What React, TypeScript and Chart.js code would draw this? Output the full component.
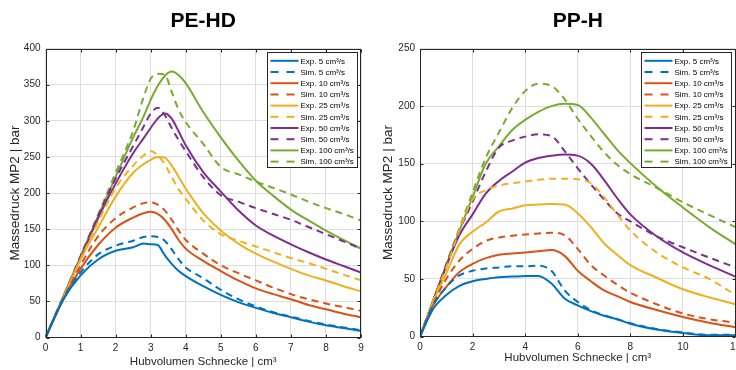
import React, { useEffect, useRef } from "react";
import { Chart, registerables } from "chart.js";

Chart.register(...registerables);

// ---------------- DATA ----------------
const SERIES_LABELS = [
  "Exp. 5 cm³/s", "Sim. 5 cm³/s",
  "Exp. 10 cm³/s", "Sim. 10 cm³/s",
  "Exp. 25 cm³/s", "Sim. 25 cm³/s",
  "Exp. 50 cm³/s", "Sim. 50 cm³/s",
  "Exp. 100 cm³/s", "Sim. 100 cm³/s",
];

// PE-HD (left)
const PE_X = [0, 0.5, 1, 1.5, 2, 2.5, 2.8, 3, 3.2, 3.4, 3.6, 3.8, 4, 4.5, 5, 5.5, 6, 6.5, 7, 7.5, 8, 8.5, 9];
const PE_EXP_5 = [0, 52, 86, 108, 120, 125, 130, 129, 128, 114, 102, 92, 85, 71, 59, 49, 41, 34, 28, 22, 17, 13, 9];
const PE_SIM_5 = [0, 53, 90, 115, 127, 134, 139, 140, 139, 134, 122, 108, 97, 82, 66, 53, 43, 35, 29, 23, 18, 14, 10];
const PE_EXP_10 = [0, 52, 95, 128, 152, 166, 172, 174, 171, 163, 150, 135, 123, 106, 92, 79, 68, 60, 53, 45, 39, 33, 28];
const PE_SIM_10 = [0, 53, 100, 140, 165, 180, 186, 187, 184, 176, 163, 148, 135, 116, 100, 89, 79, 69, 60, 53, 47, 42, 37];
const PE_EXP_25 = [0, 54, 108, 152, 195, 228, 240, 246, 250, 249, 238, 222, 206, 172, 148, 130, 116, 105, 95, 86, 79, 71, 64];
const PE_SIM_25 = [0, 55, 108, 160, 207, 238, 252, 258, 252, 240, 222, 205, 192, 162, 143, 134, 126, 118, 110, 103, 95, 87, 79];
const PE_EXP_50 = [0, 55, 110, 165, 213, 255, 276, 290, 303, 310, 303, 285, 266, 229, 202, 176, 155, 141, 129, 118, 108, 99, 90];
const PE_SIM_50 = [0, 55, 112, 168, 220, 265, 292, 310, 318, 308, 290, 273, 258, 222, 197, 188, 179, 171, 163, 153, 143, 133, 123];
const PE_EXP_100 = [0, 56, 112, 168, 222, 277, 306, 329, 348, 362, 368, 363, 352, 312, 277, 245, 217, 196, 177, 162, 148, 135, 123];
const PE_SIM_100 = [0, 56, 113, 170, 228, 286, 333, 358, 365, 364, 340, 315, 298, 268, 236, 226, 216, 207, 198, 188, 179, 171, 162];

// PP-H (right)
const PP_X = [0, 0.5, 1, 1.5, 2, 2.5, 3, 3.5, 4, 4.5, 5, 5.5, 6, 6.5, 7, 7.5, 8, 9, 10, 11, 12];
const PP_EXP_5 = [0, 24, 36, 44, 48, 50, 51.5, 52, 52.5, 52.6, 46, 33, 27, 22, 18, 15, 11, 6, 3, 1, 1];
const PP_SIM_5 = [0, 27, 43, 53, 57, 59, 60, 61, 61, 61.5, 57, 40, 30, 23, 18.5, 15, 11.5, 6.5, 3.5, 1.5, 1.5];
const PP_EXP_10 = [0, 27, 43, 56, 63, 68, 71, 72, 73, 74, 75, 70, 57, 48, 40, 35, 30, 23, 17, 12, 8];
const PP_SIM_10 = [0, 28, 50, 66, 76, 83, 86, 87.5, 88.5, 89.5, 90, 88, 76, 62, 53, 45, 38, 28, 20, 15, 12];
const PP_EXP_25 = [0, 30, 55, 80, 91, 99, 108.5, 111, 114, 114.5, 115, 114.5, 107, 95, 81, 71, 62, 51, 41, 34, 28];
const PP_SIM_25 = [0, 31, 60, 92, 119, 127, 131, 133, 134.5, 136, 137, 137, 136.5, 133, 121, 106, 92, 73, 60, 50, 36];
const PP_EXP_50 = [0, 31, 61, 88, 106, 124, 135, 143, 151, 155, 157, 158, 157, 150, 136, 120, 106, 87, 73, 62, 52];
const PP_SIM_50 = [0, 31, 62, 92, 117, 143, 164, 170, 173.5, 175.5, 174, 161, 146, 132, 119, 107, 100, 87, 77.5, 68.5, 60];
const PP_EXP_100 = [0, 31, 62, 92, 121, 150, 165, 179, 188, 195, 200, 202, 201, 190, 176, 162, 150.5, 130, 112, 95, 80];
const PP_SIM_100 = [0, 31, 63, 94, 125, 155, 177, 198, 213, 219.5, 217.5, 206, 189, 174, 160, 149, 141, 129, 116.5, 105.5, 95];

// ---------------- STYLE ----------------
const COLORS = ["#0072BD", "#D95319", "#EDB120", "#7E2F8E", "#77AC30"];
const FONT = "'Liberation Sans', Arial, Helvetica, sans-serif";
const AXIS_COLOR = "#262626";
const GRID_COLOR = "#dedede";
const DASH = [7, 5];

function buildDatasets(xs: number[], series: number[][]) {
  return series.map((ys, i) => {
    const color = COLORS[Math.floor(i / 2)];
    const dashed = i % 2 === 1;
    return {
      label: SERIES_LABELS[i],
      data: xs.map((x, k) => ({ x, y: ys[k] })),
      borderColor: color,
      backgroundColor: color,
      borderWidth: 2,
      borderDash: dashed ? DASH : [],
      pointRadius: 0,
      fill: false,
      cubicInterpolationMode: "monotone",
    };
  });
}

function makePlugins(title: string) {
  const titlePlugin = {
    id: "customTitle",
    afterDraw(chart: any) {
      const { ctx, chartArea } = chart;
      ctx.save();
      ctx.font = `bold 21px ${FONT}`;
      ctx.fillStyle = "#000";
      ctx.textAlign = "center";
      ctx.textBaseline = "middle";
      ctx.fillText(title, (chartArea.left + chartArea.right) / 2, 21);
      ctx.restore();
    },
  };
  const framePlugin = {
    id: "frame",
    afterDatasetsDraw(chart: any) {
      const { ctx, chartArea, scales } = chart;
      const L = Math.round(chartArea.left) + 0.5;
      const R = Math.round(chartArea.right) - 0.5;
      const T = Math.round(chartArea.top) + 0.5;
      const B = Math.round(chartArea.bottom) - 0.5;
      ctx.save();
      ctx.strokeStyle = AXIS_COLOR;
      ctx.lineWidth = 1;
      ctx.setLineDash([]);
      ctx.strokeRect(L, T, R - L, B - T);
      const tl = 3;
      ctx.beginPath();
      scales.x.ticks.forEach((t: any) => {
        const px = Math.round(scales.x.getPixelForValue(t.value)) + 0.5;
        ctx.moveTo(px, B); ctx.lineTo(px, B - tl);
        ctx.moveTo(px, T); ctx.lineTo(px, T + tl);
      });
      scales.y.ticks.forEach((t: any) => {
        const py = Math.round(scales.y.getPixelForValue(t.value)) + 0.5;
        ctx.moveTo(L, py); ctx.lineTo(L + tl, py);
        ctx.moveTo(R, py); ctx.lineTo(R - tl, py);
      });
      ctx.stroke();
      ctx.restore();
    },
  };
  const legendPlugin = {
    id: "boxLegend",
    afterDraw(chart: any) {
      const { ctx, chartArea } = chart;
      const ds = chart.data.datasets;
      const w = 90, h = 115;
      const right = Math.round(chartArea.right - 4.5) + 0.5;
      const left = right - w;
      const top = Math.round(chartArea.top + 3) + 0.5;
      ctx.save();
      ctx.fillStyle = "#fff";
      ctx.fillRect(left, top, w, h);
      ctx.strokeStyle = AXIS_COLOR;
      ctx.lineWidth = 1;
      ctx.setLineDash([]);
      ctx.strokeRect(left, top, w, h);
      ctx.font = `8px ${FONT}`;
      ctx.textBaseline = "middle";
      ctx.textAlign = "left";
      ds.forEach((d: any, i: number) => {
        const cy = top + 8.3 + i * 11.2;
        ctx.strokeStyle = d.borderColor;
        ctx.lineWidth = 2;
        ctx.setLineDash(d.borderDash && d.borderDash.length ? [8, 8] : []);
        ctx.beginPath();
        ctx.moveTo(left + 3, cy);
        ctx.lineTo(left + 31, cy);
        ctx.stroke();
        ctx.setLineDash([]);
        ctx.fillStyle = "#000";
        ctx.fillText(d.label, left + 33, cy + 0.5);
      });
      ctx.restore();
    },
  };
  return [titlePlugin, framePlugin, legendPlugin];
}

interface PanelCfg {
  title: string;
  xs: number[];
  series: number[][];
  xMax: number;
  xStep: number;
  yMax: number;
  padTop: number;
  padRight: number;
  yWidth: number;
  xHeight: number;
  yTitlePad: number;
  xTitlePad: number;
}

function makeConfig(p: PanelCfg): any {
  const tickFont = { family: FONT, size: 10 };
  const xTitleFont = { family: FONT, size: 11.5 };
  const yTitleFont = { family: FONT, size: 13.5 };
  return {
    type: "line",
    data: { datasets: buildDatasets(p.xs, p.series) },
    options: {
      animation: false,
      responsive: false,
      maintainAspectRatio: false,
      devicePixelRatio: 1,
      layout: { padding: { top: p.padTop, right: p.padRight, left: 0, bottom: 0 } },
      plugins: { legend: { display: false }, tooltip: { enabled: false }, title: { display: false } },
      elements: { point: { radius: 0 } },
      scales: {
        x: {
          type: "linear",
          min: 0,
          max: p.xMax,
          ticks: { stepSize: p.xStep, font: tickFont, color: AXIS_COLOR, padding: 5, maxRotation: 0, autoSkip: false },
          grid: { color: GRID_COLOR, drawTicks: false, lineWidth: 1 },
          border: { display: false },
          title: {
            display: true,
            text: "Hubvolumen Schnecke | cm³",
            font: xTitleFont,
            color: AXIS_COLOR,
            padding: { top: 0, bottom: p.xTitlePad },
          },
          afterFit: (s: any) => {
            s.height = p.xHeight;
            s.paddingLeft = 0;
            s.paddingRight = 0;
          },
        },
        y: {
          type: "linear",
          min: 0,
          max: p.yMax,
          ticks: { stepSize: 50, font: tickFont, color: AXIS_COLOR, padding: 5 },
          grid: { color: GRID_COLOR, drawTicks: false, lineWidth: 1 },
          border: { display: false },
          title: {
            display: true,
            text: "Massedruck MP2 | bar",
            font: yTitleFont,
            color: AXIS_COLOR,
            padding: { top: p.yTitlePad, bottom: 0 },
          },
          afterFit: (s: any) => {
            s.width = p.yWidth;
            s.paddingTop = 0;
            s.paddingBottom = 0;
          },
        },
      },
    },
    plugins: makePlugins(p.title),
  };
}

function Panel({ cfg, left, width }: { cfg: PanelCfg; left: number; width: number }) {
  const ref = useRef<HTMLCanvasElement | null>(null);
  useEffect(() => {
    if (!ref.current) return;
    const chart = new Chart(ref.current, makeConfig(cfg));
    return () => chart.destroy();
  }, []);
  return (
    <canvas
      ref={ref}
      width={width}
      height={370}
      style={{ position: "absolute", left, top: 0, width, height: 370 }}
    />
  );
}

const LEFT_PANEL: PanelCfg = {
  title: "PE-HD",
  xs: PE_X,
  series: [PE_EXP_5, PE_SIM_5, PE_EXP_10, PE_SIM_10, PE_EXP_25, PE_SIM_25, PE_EXP_50, PE_SIM_50, PE_EXP_100, PE_SIM_100],
  xMax: 9,
  xStep: 1,
  yMax: 400,
  padTop: 48.5,
  padRight: 9,
  yWidth: 45.5,
  xHeight: 32.5,
  yTitlePad: 7,
  xTitlePad: 1,
};

const RIGHT_PANEL: PanelCfg = {
  title: "PP-H",
  xs: PP_X,
  series: [PP_EXP_5, PP_SIM_5, PP_EXP_10, PP_SIM_10, PP_EXP_25, PP_SIM_25, PP_EXP_50, PP_SIM_50, PP_EXP_100, PP_SIM_100],
  xMax: 12,
  xStep: 2,
  yMax: 250,
  padTop: 48.5,
  padRight: 0.5,
  yWidth: 50,
  xHeight: 33.5,
  yTitlePad: 10,
  xTitlePad: 5,
};

export default function App() {
  return (
    <div style={{ position: "fixed", left: 0, top: 0, width: 736, height: 370, background: "#fff", overflow: "hidden" }}>
      <Panel cfg={LEFT_PANEL} left={0} width={370} />
      <Panel cfg={RIGHT_PANEL} left={370} width={366} />
    </div>
  );
}
